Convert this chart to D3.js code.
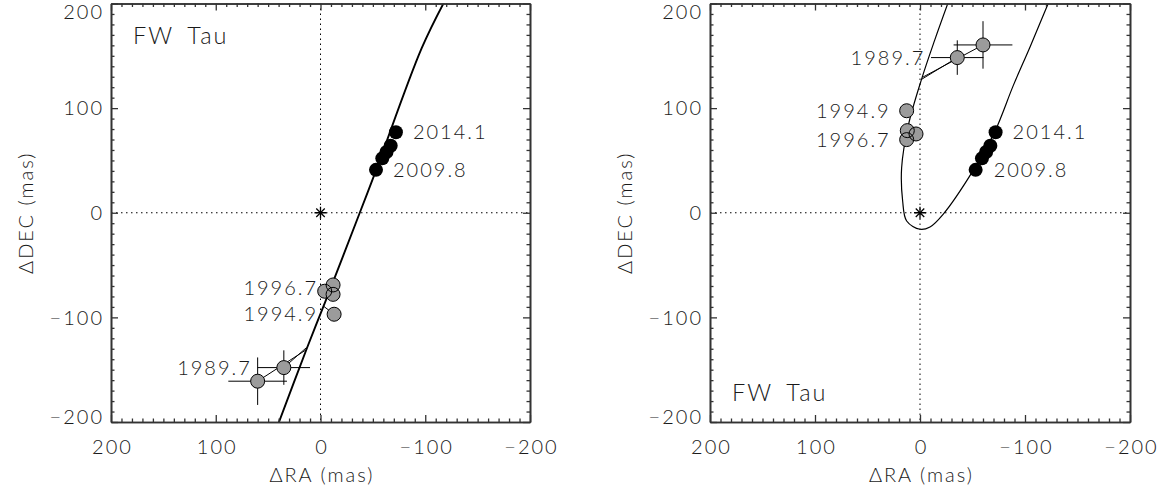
<!DOCTYPE html>
<html><head><meta charset="utf-8">
<script src="https://cdn.jsdelivr.net/npm/d3@7"></script>
<style>
body{margin:0;background:#fff;}
svg text{font-family:"Lato","Liberation Sans",Arial,sans-serif;font-weight:300;fill:#1a1a1a;letter-spacing:2px;}
</style></head><body>
<svg id="chart" width="1167" height="491"></svg>
<script>
// ---------------- data ----------------
const majorTicks = [200, 100, 0, -100, -200];
const minorTicks = [-190,-180,-170,-160,-150,-140,-130,-120,-110,-90,-80,-70,-60,-50,-40,-30,-20,-10,
                    10,20,30,40,50,60,70,80,90,110,120,130,140,150,160,170,180,190];
const objectName = "FW Tau";
const xTitle = "\u0394RA (mas)";
const yTitle = "\u0394DEC (mas)";

// recent (black) measurements, same in both panels
const blackRA  = [-53, -59, -63, -67, -72];
const blackDEC = [41, 52, 58, 64, 77];

// older (gray) measurements: left panel and 180°-flipped right panel
const leftGrayRA   = [60, 35, -13, -4, -12, -12];
const leftGrayDEC  = [-161, -148, -97, -75, -78, -69];
const rightGrayRA  = [-60, -35.5, 12.7, 3.8, 12.1, 12.7];
const rightGrayDEC = [160.4, 148.3, 97.5, 75.3, 78.5, 69.9];
const grayErrRA  = [28, 25, 0, 0, 0, 0];
const grayErrDEC = [22.7, 16.5, 0, 0, 0, 0];

// model positions the gray points are tied to
const leftModelRA   = [13, 13.5, -2.5, -7, -7, -7];
const leftModelDEC  = [-130.5, -129, -89, -80, -80, -80];
const rightModelRA  = [-2.5, -1.5, 9, 13.5, 13.5, 13.5];
const rightModelDEC = [129.5, 127.5, 97, 74, 74, 74];

// orbit curves
const leftOrbitRA  = [41.5, 12.8, -5, -37.5, -53.2, -96.5, -120];
const leftOrbitDEC = [-205, -129, -84, 0, 41, 157, 205];
const rightOrbitRA  = [-29, -14, -1.6, 11, 17.5, 16.5, 12.7, 0, -9.5, -22, -51, -71, -89, -105, -125];
const rightOrbitDEC = [207, 165, 128, 84, 43, 11, -7.9, -15.8, -13.6, -1.5, 41, 77, 122, 159, 207];

// epoch labels
const labelText = ["2014.1", "2009.8", "1996.7", "1994.9", "1989.7"];
const labelSet  = ["black", "black", "gray", "gray", "gray"];
const labelIdx  = [4, 0, 5, 2, 1];

// ---------------- drawing ----------------
const svg = d3.select("#chart");

const panelsCfg = [
  {left:111, right:530, top:3.5, bottom:422, grayRA:leftGrayRA, grayDEC:leftGrayDEC,
   modelRA:leftModelRA, modelDEC:leftModelDEC, orbitRA:leftOrbitRA, orbitDEC:leftOrbitDEC,
   orbitWidth:1.9, nameX:22, nameY:44, id:"L",
   labelOff:{"2014.1":[17,0],"2009.8":[17,0],"1996.7":[-17,3],"1994.9":[-18,0],"1989.7":[-34,0]}},
  {left:710, right:1130, top:3.5, bottom:422, grayRA:rightGrayRA, grayDEC:rightGrayDEC,
   modelRA:rightModelRA, modelDEC:rightModelDEC, orbitRA:rightOrbitRA, orbitDEC:rightOrbitDEC,
   orbitWidth:1.2, nameX:22, nameY:401, id:"R",
   labelOff:{"2014.1":[17,0],"2009.8":[18,0],"1996.7":[-18,0],"1994.9":[-18,0],"1989.7":[-34,0]}}
];

panelsCfg.forEach(p => {
  const x = d3.scaleLinear().domain([200, -200]).range([p.left, p.right]);
  const y = d3.scaleLinear().domain([-200, 200]).range([p.bottom, p.top]);
  const g = svg.append("g");

  g.append("clipPath").attr("id", "clip" + p.id)
    .append("rect").attr("x", p.left).attr("y", p.top)
    .attr("width", p.right - p.left).attr("height", p.bottom - p.top);

  const plot = g.append("g").attr("clip-path", `url(#clip${p.id})`);

  // dotted zero lines
  plot.append("line").attr("x1", x(0)).attr("x2", x(0)).attr("y1", p.top).attr("y2", p.bottom)
    .attr("stroke", "#000").attr("stroke-width", 1).attr("stroke-dasharray", "1.5,3.5");
  plot.append("line").attr("y1", y(0)).attr("y2", y(0)).attr("x1", p.left).attr("x2", p.right)
    .attr("stroke", "#000").attr("stroke-width", 1).attr("stroke-dasharray", "1.5,3.5");

  // orbit
  const orbit = p.orbitRA.map((v, i) => [v, p.orbitDEC[i]]);
  plot.append("path").datum(orbit)
    .attr("d", d3.line().x(d => x(d[0])).y(d => y(d[1])).curve(d3.curveCatmullRom.alpha(0.5)))
    .attr("fill", "none").attr("stroke", "#000").attr("stroke-width", p.orbitWidth);

  // star at origin
  const s = 6;
  const star = plot.append("g").attr("transform", `translate(${x(0)},${y(0)})`);
  [0, 45, 90, 135].forEach(a => {
    const r = a * Math.PI / 180;
    star.append("line").attr("x1", -s * Math.cos(r)).attr("y1", -s * Math.sin(r))
      .attr("x2", s * Math.cos(r)).attr("y2", s * Math.sin(r))
      .attr("stroke", "#000").attr("stroke-width", 1.3);
  });

  const gray = p.grayRA.map((v, i) => ({ra: v, dec: p.grayDEC[i], ex: grayErrRA[i], ey: grayErrDEC[i],
                                        mra: p.modelRA[i], mdec: p.modelDEC[i]}));
  // residual lines
  plot.selectAll(".res").data(gray).join("line")
    .attr("x1", d => x(d.ra)).attr("y1", d => y(d.dec))
    .attr("x2", d => x(d.mra)).attr("y2", d => y(d.mdec))
    .attr("stroke", "#000").attr("stroke-width", 1);
  // error bars
  const eb = gray.filter(d => d.ex > 0);
  plot.selectAll(".ebx").data(eb).join("line")
    .attr("x1", d => x(d.ra - d.ex)).attr("x2", d => x(d.ra + d.ex))
    .attr("y1", d => y(d.dec)).attr("y2", d => y(d.dec))
    .attr("stroke", "#000").attr("stroke-width", 1);
  plot.selectAll(".eby").data(eb).join("line")
    .attr("x1", d => x(d.ra)).attr("x2", d => x(d.ra))
    .attr("y1", d => y(d.dec - d.ey)).attr("y2", d => y(d.dec + d.ey))
    .attr("stroke", "#000").attr("stroke-width", 1);
  // gray circles: fills then outlines
  plot.selectAll(".gf").data(gray).join("circle")
    .attr("cx", d => x(d.ra)).attr("cy", d => y(d.dec)).attr("r", 7)
    .attr("fill", "#9b9b9b");
  plot.selectAll(".go").data(gray).join("circle")
    .attr("cx", d => x(d.ra)).attr("cy", d => y(d.dec)).attr("r", 7)
    .attr("fill", "none").attr("stroke", "#000").attr("stroke-width", 1);

  // black circles
  const black = blackRA.map((v, i) => ({ra: v, dec: blackDEC[i]}));
  plot.selectAll(".bk").data(black).join("circle")
    .attr("cx", d => x(d.ra)).attr("cy", d => y(d.dec)).attr("r", 7)
    .attr("fill", "#000");

  // epoch labels
  labelText.forEach((t, i) => {
    const src = labelSet[i] === "black" ? black[labelIdx[i]] : gray[labelIdx[i]];
    const off = p.labelOff[t];
    g.append("text").attr("x", x(src.ra) + off[0] + (off[0] < 0 ? 2 : 0)).attr("y", y(src.dec) + off[1])
      .attr("dy", "0.36em").attr("text-anchor", off[0] < 0 ? "end" : "start")
      .attr("font-size", 20).text(t);
  });

  // axes (ticks inward on all sides)
  const axStyle = sel => {
    sel.select(".domain").attr("stroke", "#333").attr("stroke-width", 1.6);
    sel.selectAll(".tick line").attr("stroke", "#333").attr("stroke-width", 1.3);
    sel.selectAll("text").attr("font-size", 20).attr("fill", "#1a1a1a")
      .attr("font-family", null);
  };
  const gb = g.append("g").attr("transform", `translate(0,${p.bottom})`)
    .call(d3.axisBottom(x).tickValues(majorTicks).tickSize(-7).tickPadding(18).tickSizeOuter(0));
  gb.selectAll("text").attr("dx", "1px");
  axStyle(gb);
  g.append("g").attr("transform", `translate(0,${p.bottom})`)
    .call(d3.axisBottom(x).tickValues(minorTicks).tickSize(-3.5).tickFormat("").tickSizeOuter(0)).call(axStyle);
  const gl = g.append("g").attr("transform", `translate(${p.left},0)`)
    .call(d3.axisLeft(y).tickValues(majorTicks).tickSize(-7).tickPadding(7).tickSizeOuter(0));
  axStyle(gl);
  gl.selectAll(".tick text").attr("dy", d => d === 200 ? "14.5px" : d === -200 ? "1px" : "0.34em");
  g.append("g").attr("transform", `translate(${p.left},0)`)
    .call(d3.axisLeft(y).tickValues(minorTicks).tickSize(-3.5).tickFormat("").tickSizeOuter(0)).call(axStyle);
  g.append("g").attr("transform", `translate(0,${p.top})`)
    .call(d3.axisTop(x).tickValues(majorTicks).tickSize(-7).tickFormat("").tickSizeOuter(0)).call(axStyle);
  g.append("g").attr("transform", `translate(0,${p.top})`)
    .call(d3.axisTop(x).tickValues(minorTicks).tickSize(-3.5).tickFormat("").tickSizeOuter(0)).call(axStyle);
  g.append("g").attr("transform", `translate(${p.right},0)`)
    .call(d3.axisRight(y).tickValues(majorTicks).tickSize(-7).tickFormat("").tickSizeOuter(0)).call(axStyle);
  g.append("g").attr("transform", `translate(${p.right},0)`)
    .call(d3.axisRight(y).tickValues(minorTicks).tickSize(-3.5).tickFormat("").tickSizeOuter(0)).call(axStyle);

  // titles
  g.append("text").attr("x", (p.left + p.right) / 2 + 1.4).attr("y", 482)
    .attr("text-anchor", "middle").attr("font-size", 20).attr("letter-spacing", "2.8px").text(xTitle);
  g.append("text").attr("transform", `translate(${p.left - 78},${(p.top + p.bottom) / 2}) rotate(-90)`)
    .attr("text-anchor", "middle").attr("font-size", 20).attr("letter-spacing", "2.6px").text(yTitle);
  g.append("text").attr("x", p.left + p.nameX).attr("y", p.nameY)
    .attr("font-size", 23.5).attr("letter-spacing", "2.2px").attr("word-spacing", "6px").text(objectName);
});
</script>
</body></html>
